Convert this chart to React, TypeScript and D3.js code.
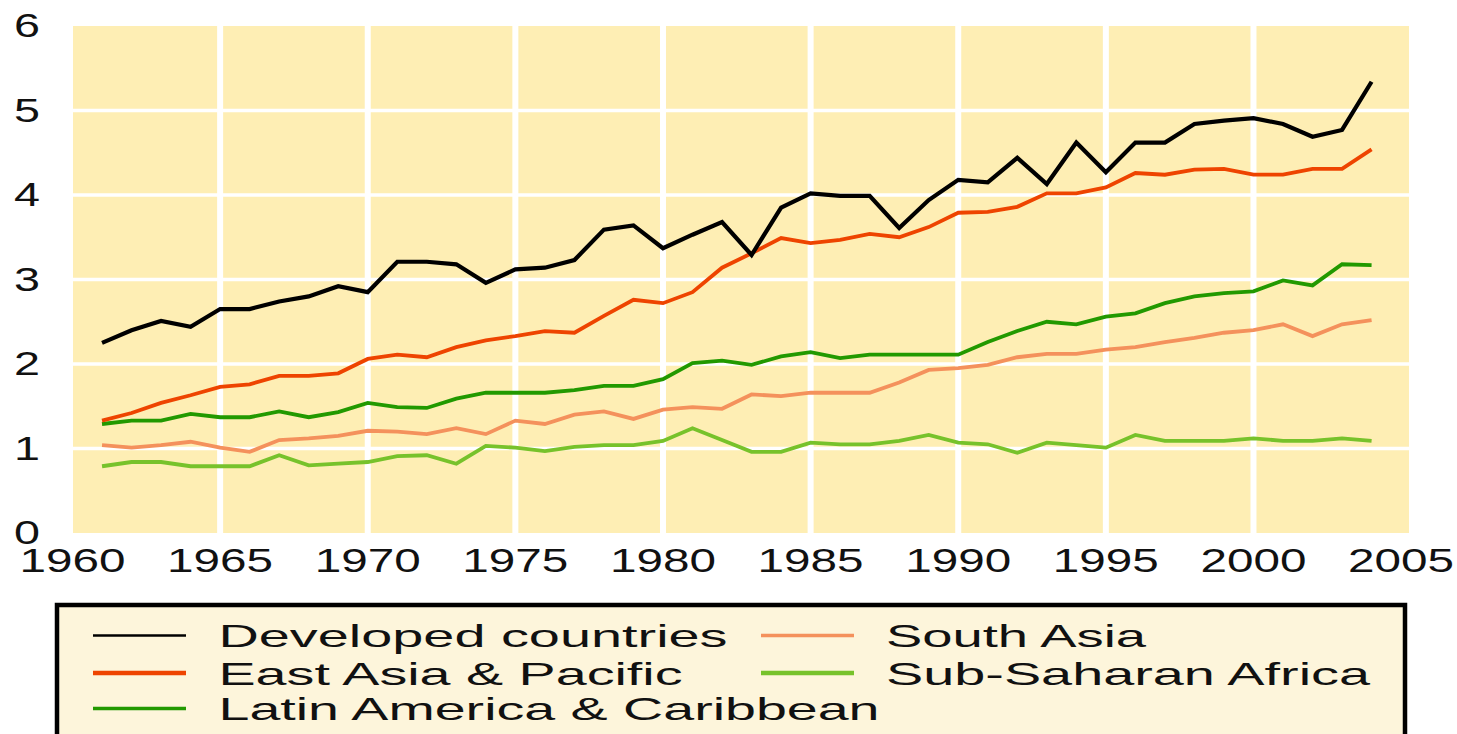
import React from 'react';
import * as d3 from 'd3';

const years = d3.range(1961, 2005);

const developed = [2.25, 2.4, 2.51, 2.44, 2.65, 2.65, 2.74, 2.8, 2.92, 2.85, 3.21, 3.21, 3.18, 2.96, 3.12, 3.14, 3.23, 3.59, 3.64, 3.37, 3.53, 3.68, 3.29, 3.85, 4.02, 3.99, 3.99, 3.61, 3.94, 4.18, 4.15, 4.44, 4.13, 4.62, 4.27, 4.62, 4.62, 4.84, 4.88, 4.91, 4.84, 4.69, 4.77, 5.34];
const eastAsia = [1.33, 1.42, 1.54, 1.63, 1.73, 1.76, 1.86, 1.86, 1.89, 2.06, 2.11, 2.08, 2.2, 2.28, 2.33, 2.39, 2.37, 2.57, 2.76, 2.72, 2.85, 3.14, 3.31, 3.49, 3.43, 3.47, 3.54, 3.5, 3.62, 3.79, 3.8, 3.86, 4.02, 4.02, 4.09, 4.26, 4.24, 4.3, 4.31, 4.24, 4.24, 4.31, 4.31, 4.54];
const latinAmerica = [1.29, 1.33, 1.33, 1.41, 1.37, 1.37, 1.44, 1.37, 1.43, 1.54, 1.49, 1.48, 1.59, 1.66, 1.66, 1.66, 1.69, 1.74, 1.74, 1.82, 2.01, 2.04, 1.99, 2.09, 2.14, 2.07, 2.11, 2.11, 2.11, 2.11, 2.26, 2.39, 2.5, 2.47, 2.56, 2.6, 2.72, 2.8, 2.84, 2.86, 2.99, 2.93, 3.18, 3.17];
const southAsia = [1.04, 1.01, 1.04, 1.08, 1.01, 0.96, 1.1, 1.12, 1.15, 1.21, 1.2, 1.17, 1.24, 1.17, 1.33, 1.29, 1.4, 1.44, 1.35, 1.46, 1.49, 1.47, 1.64, 1.62, 1.66, 1.66, 1.66, 1.78, 1.93, 1.95, 1.99, 2.08, 2.12, 2.12, 2.17, 2.2, 2.26, 2.31, 2.37, 2.4, 2.47, 2.33, 2.47, 2.52];
const subSaharan = [0.79, 0.84, 0.84, 0.79, 0.79, 0.79, 0.92, 0.8, 0.82, 0.84, 0.91, 0.92, 0.82, 1.03, 1.01, 0.97, 1.02, 1.04, 1.04, 1.09, 1.24, 1.1, 0.96, 0.96, 1.07, 1.05, 1.05, 1.09, 1.16, 1.07, 1.05, 0.95, 1.07, 1.04, 1.01, 1.16, 1.09, 1.09, 1.09, 1.12, 1.09, 1.09, 1.12, 1.09];

const xTicks = [1960, 1965, 1970, 1975, 1980, 1985, 1990, 1995, 2000, 2005];
const yTicks = [0, 1, 2, 3, 4, 5, 6];

const series = [
  { name: 'Sub-Saharan Africa', values: subSaharan, color: '#77c22b', legendWidth: 4.3, col: 1, row: 1, textLen: 484 },
  { name: 'South Asia', values: southAsia, color: '#f4915c', legendWidth: 3.3, col: 1, row: 0, textLen: 260 },
  { name: 'Latin America & Caribbean', values: latinAmerica, color: '#229900', legendWidth: 3.3, col: 0, row: 2, textLen: 661 },
  { name: 'East Asia & Pacific', values: eastAsia, color: '#ee4400', legendWidth: 4.3, col: 0, row: 1, textLen: 464 },
  { name: 'Developed countries', values: developed, color: '#000000', legendWidth: 2.7, col: 0, row: 0, textLen: 509 },
];

export default function App() {
  const width = 1457;
  const height = 734;
  const plot = { left: 73, right: 1409, top: 26, bottom: 533 };

  const x = d3.scaleLinear().domain([1960, 2005]).range([72.5, 1401.1]);
  const y = d3.scaleLinear().domain([0, 6]).range([plot.bottom, plot.top]);

  const line = d3.line<number>()
    .x((_, i) => x(years[i]))
    .y(d => y(d));

  const font = '"Liberation Sans", Arial, sans-serif';

  // legend layout
  const legendRowY = [635.5, 673, 708.5];
  const legendLineX = [[93, 186], [761, 854]];
  const legendTextX = [218.5, 886];

  return (
    <div style={{ position: 'absolute', left: 0, top: 0 }}>
      <svg width={width} height={height} style={{ display: 'block' }}>
        <rect x={0} y={0} width={width} height={height} fill="#ffffff" />
        <rect x={plot.left} y={plot.top} width={plot.right - plot.left} height={plot.bottom - plot.top} fill="#feeeb4" />

        {/* grid */}
        {yTicks.filter(t => t > 0 && t < 6).map(t => (
          <line key={'gy' + t} x1={plot.left} x2={plot.right} y1={y(t)} y2={y(t)} stroke="#ffffff" strokeWidth={3.5} />
        ))}
        {xTicks.filter(t => t > 1960 && t < 2005).map(t => (
          <line key={'gx' + t} x1={x(t)} x2={x(t)} y1={plot.top} y2={plot.bottom} stroke="#ffffff" strokeWidth={6} />
        ))}

        {/* series */}
        {series.map(s => (
          <path key={s.name} d={line(s.values) || ''} fill="none" stroke={s.color}
            strokeWidth={s.color === '#000000' ? 4.2 : 3.8} strokeLinejoin="miter" />
        ))}

        {/* y axis labels */}
        {yTicks.map(t => (
          <text key={'yl' + t} x={27} y={y(t) + 11} textAnchor="middle" fontFamily={font} fontSize={34}
            textLength={26} lengthAdjust="spacingAndGlyphs" fill="#111">{t}</text>
        ))}

        {/* x axis labels */}
        {xTicks.map(t => (
          <text key={'xl' + t} x={x(t) - 53} y={572} fontFamily={font} fontSize={34}
            textLength={106} lengthAdjust="spacingAndGlyphs" fill="#111">{t}</text>
        ))}

        {/* legend */}
        <rect x={57} y={605} width={1348} height={160} fill="#fdf5db" stroke="#000" strokeWidth={4.5} />
        {series.map(s => (
          <g key={'lg' + s.name}>
            <line x1={legendLineX[s.col][0]} x2={legendLineX[s.col][1]} y1={legendRowY[s.row]} y2={legendRowY[s.row]}
              stroke={s.color} strokeWidth={s.legendWidth} />
            <text x={legendTextX[s.col]} y={legendRowY[s.row] + 11.5} fontFamily={font} fontSize={32}
              textLength={s.textLen} lengthAdjust="spacingAndGlyphs" fill="#111">{s.name}</text>
          </g>
        ))}
      </svg>
    </div>
  );
}
